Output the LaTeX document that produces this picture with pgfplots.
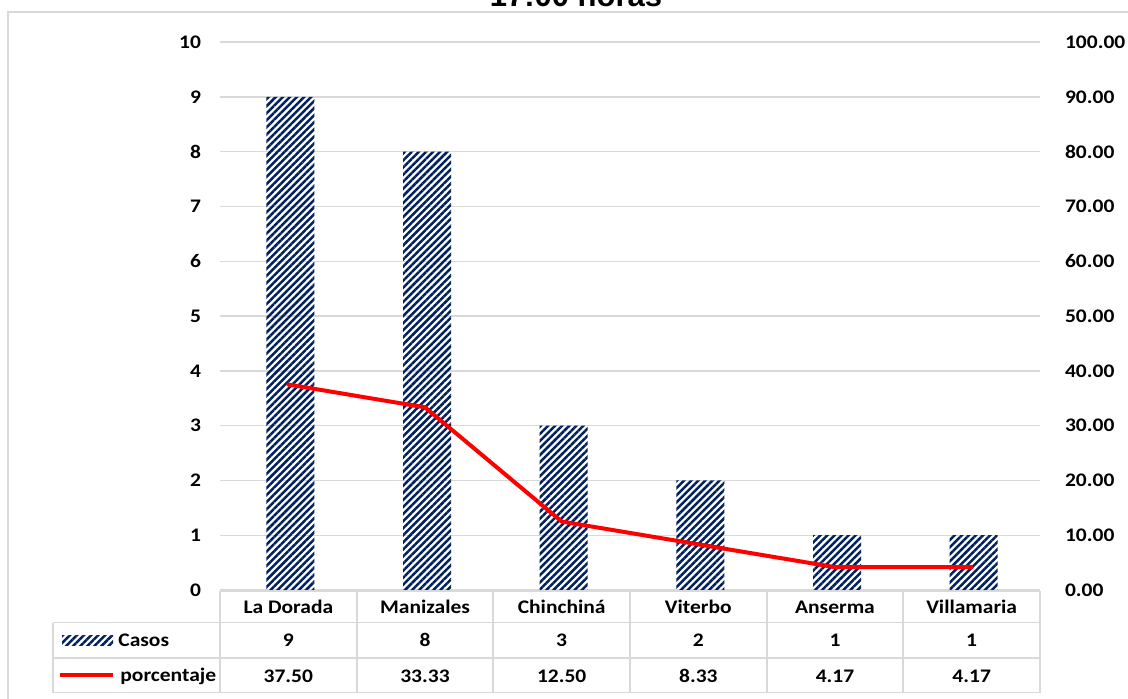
\documentclass[border=0pt]{standalone}
\usepackage{pgfplots}
\pgfplotsset{compat=1.18}
\usepackage{fontspec}
\setmainfont{Carlito}[FakeStretch=1.12]
\newfontfamily\arialfont{Liberation Sans}
\usetikzlibrary{patterns.meta}
\definecolor{navybar}{HTML}{002060}
\definecolor{gridgray}{HTML}{D9D9D9}
\newcommand\labfont{\bfseries\fontsize{9.6}{11.5}\selectfont}
\tikzset{hatch/.style={pattern={Lines[angle=45,distance=2.5pt,line width=1.25pt]}, pattern color=navybar}}

\begin{document}
\begin{tikzpicture}
\useasboundingbox (0,0) rectangle (564pt,349pt);
% chart frame and (cut off) title
\draw[gridgray, line width=0.8pt] (4pt,-5pt) -- (4pt,343pt) -- (570pt,343pt);
\node[font=\arialfont\bfseries\fontsize{15.5}{18}\selectfont, anchor=base] at (288pt,345.5pt) {17:00 horas};

% casos (left axis)
\begin{axis}[
    at={(110pt,54pt)}, anchor=south west,
    scale only axis, width=410pt, height=274pt,
    xmin=-0.5, xmax=5.5, ymin=0, ymax=10,
    xtick=\empty, ytick={0,1,...,10},
    ymajorgrids, grid style={gridgray, line width=0.7pt},
    axis line style={draw=none}, major tick length=0pt,
    tick label style={font=\labfont},
    /pgf/number format/assume math mode=true,
    yticklabel style={xshift=-6pt},
]
\addplot[ybar, bar width=24pt, draw=none, hatch, bar shift=1pt]
    coordinates {(0,9)(1,8)(2,3)(3,2)(4,1)(5,1)};
\end{axis}

% porcentaje (right axis)
\begin{axis}[
    at={(110pt,54pt)}, anchor=south west,
    scale only axis, width=410pt, height=274pt,
    xmin=-0.5, xmax=5.5, ymin=0, ymax=100,
    axis x line=none, axis y line*=right,
    xtick=\empty, ytick={0,10,...,100},
    axis line style={draw=none}, major tick length=0pt,
    tick label style={font=\labfont},
    /pgf/number format/assume math mode=true,
    yticklabel={\pgfmathprintnumber[fixed,fixed zerofill,precision=2]{\tick}},
    yticklabel style={anchor=west, xshift=9pt},
]
\addplot[red, line width=2pt, line join=round, line cap=round]
    coordinates {(0,37.50)(1,33.33)(2,12.50)(3,8.33)(4,4.17)(5,4.17)};
\end{axis}

% data table
\begin{scope}[gridgray, line width=0.9pt]
\draw (110pt,53.5pt) -- (520pt,53.5pt);
\draw (26.5pt,37.75pt) -- (520pt,37.75pt);
\draw (26.5pt,20pt) -- (520pt,20pt);
\draw (26.5pt,2.75pt) -- (520pt,2.75pt);
\draw (26.5pt,37.75pt) -- (26.5pt,2.75pt);
\foreach \k in {0,...,6} {
  \draw ({110pt+\k*68.333pt},53.5pt) -- ({110pt+\k*68.333pt},2.75pt);
}
\end{scope}
\begin{scope}[font=\labfont]
\foreach \k/\name/\c/\p in {0/La Dorada/9/37.50, 1/Manizales/8/33.33, 2/Chinchiná/3/12.50,
    3/Viterbo/2/8.33, 4/Anserma/1/4.17, 5/Villamaria/1/4.17} {
  \node at ({110pt+(\k+0.5)*68.333pt},45.5pt) {\name};
  \node at ({110pt+(\k+0.5)*68.333pt},29pt) {\c};
  \node at ({110pt+(\k+0.5)*68.333pt},11pt) {\p};
}
\fill[hatch] (31pt,26.5pt) rectangle (56.5pt,31.5pt);
\node[anchor=west, inner sep=0pt] at (59pt,29pt) {Casos};
\draw[red, line width=2pt] (30pt,11.5pt) -- (56.5pt,11.5pt);
\node[anchor=west, inner sep=0pt] at (60pt,11pt) {porcentaje};
\end{scope}
\end{tikzpicture}
\end{document}
